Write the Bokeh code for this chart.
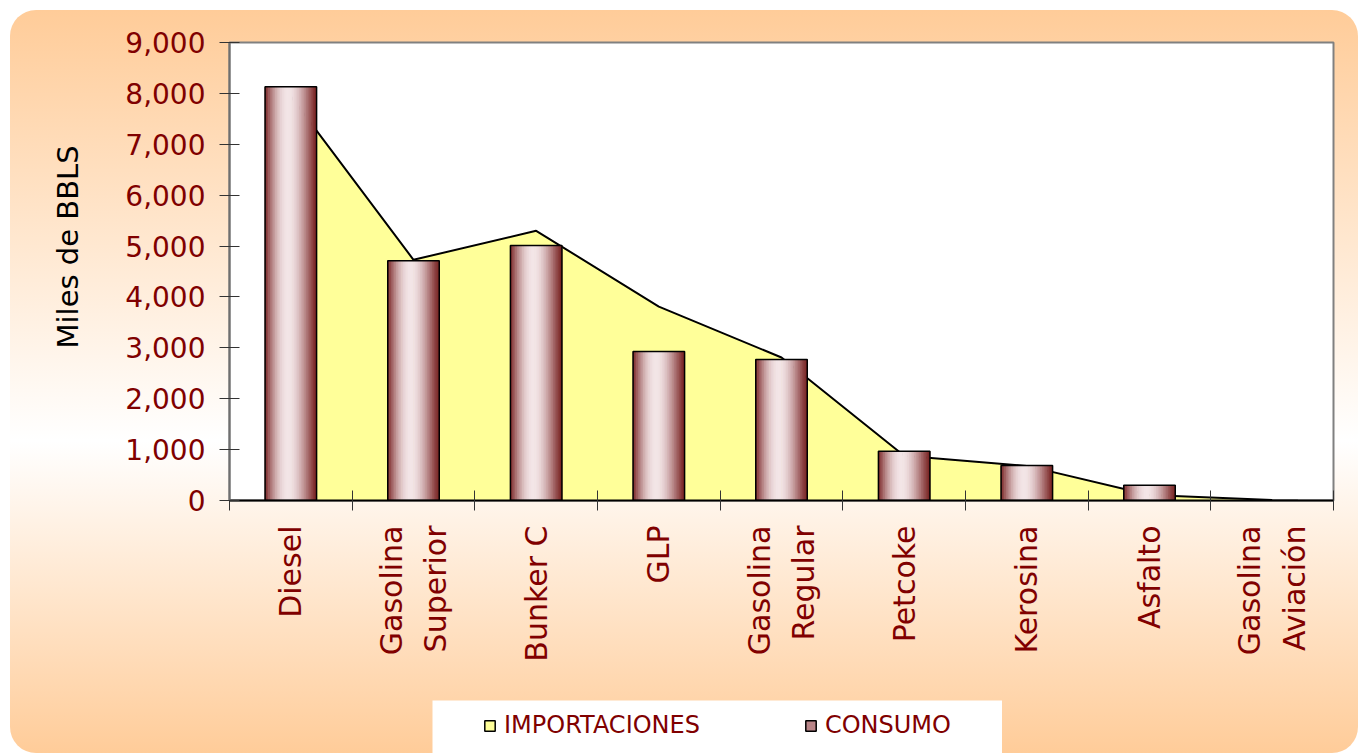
import math
from bokeh.plotting import figure
from bokeh.models import (FactorRange, Range1d, LinearAxis, FixedTicker, Title,
                          NumeralTickFormatter, Legend, LegendItem, ColumnDataSource)
from bokeh.transform import dodge
from bokeh.embed import file_html
from bokeh.resources import INLINE

# ---------------- data ----------------
categories = ["Diesel", "Gasolina Superior", "Bunker C", "GLP", "Gasolina Regular",
              "Petcoke", "Kerosina", "Asfalto", "Gasolina Aviación"]
tick_labels = ["Diesel", "Gasolina\nSuperior", "Bunker C", "GLP", "Gasolina\nRegular",
               "Petcoke", "Kerosina", "Asfalto", "Gasolina\nAviación"]
importaciones = [7940, 4730, 5300, 3810, 2810, 880, 680, 110, 10]
consumo = [8130, 4710, 5010, 2930, 2770, 970, 690, 300, 0]
y_ticks = [0, 1000, 2000, 3000, 4000, 5000, 6000, 7000, 8000, 9000]
series_names = ["IMPORTACIONES", "CONSUMO"]
y_title = "Miles de BBLS"

# ---------------- styles ----------------
RED = "#800000"
FONT = "DejaVu Sans"
LINE_GAP = 0.183  # half spacing of the two lines of a label, in category widths
YELLOW = "#FFFF99"

src = ColumnDataSource(dict(cat=categories, imp=importaciones, con=consumo))

p = figure(width=1348, height=743,
           x_range=FactorRange(factors=categories, range_padding=0),
           y_range=Range1d(0, 9000),
           output_backend="svg", toolbar_location=None,
           x_axis_location=None, y_axis_location=None,
           min_border_left=215, min_border_right=25, min_border_top=32, min_border_bottom=253,
           border_fill_color=None, background_fill_color="white",
           outline_line_color="#808080", outline_line_width=2,
           styles={"background": "linear-gradient(to bottom, #FFCC99 0%, #FFFFFF 58%, #FFCC99 100%)",
                   "border-radius": "26px", "overflow": "hidden",
                   "margin-left": "10px", "margin-top": "10px"})
p.grid.grid_line_color = None

# y axis
yaxis = LinearAxis(ticker=FixedTicker(ticks=y_ticks), formatter=NumeralTickFormatter(format="0,0"),
                   major_tick_in=10, major_tick_out=10, minor_tick_line_color=None,
                   axis_line_color="#6f6f6f", axis_line_width=2,
                   major_tick_line_color="#333333",
                   major_label_text_font=FONT, major_label_text_font_size="28px",
                   major_label_text_color=RED, major_label_standoff=14)
p.add_layout(yaxis, "left")
p.add_layout(Title(text=y_title, align="left", offset=152, standoff=76,
                   text_font=FONT, text_font_size="29px", text_font_style="normal",
                   text_color="black"), "left")

# x axis: labels placed in the factor range's synthetic coordinates,
# minor ticks mark the category boundaries
label_pos, label_txt = [], []
for i, lab in enumerate(tick_labels):
    lines = lab.split("\n")
    for j, ln in enumerate(lines):
        pos = i + 0.5 + (j - (len(lines) - 1) / 2) * 2 * LINE_GAP
        label_pos.append(pos)
        label_txt.append(ln)
xaxis = LinearAxis(ticker=FixedTicker(ticks=label_pos, minor_ticks=list(range(len(categories) + 1))),
                   major_label_overrides=dict(zip(label_pos, label_txt)),
                   major_label_orientation=math.pi / 2,
                   major_tick_line_color=None, major_tick_in=0, major_tick_out=0,
                   minor_tick_in=10, minor_tick_out=10, minor_tick_line_color="#333333",
                   axis_line_color="black", axis_line_width=2,
                   major_label_text_font=FONT, major_label_text_font_size="30px",
                   major_label_text_color=RED, major_label_standoff=15)
p.add_layout(xaxis, "below")

# area (importaciones)
p.varea(x="cat", y1=0, y2="imp", source=src, fill_color=YELLOW)
p.line(x="cat", y="imp", source=src, line_color="black", line_width=2)

# bars (consumo) with cylinder shading
dark = (0x78, 0x22, 0x22)
light = (0xF3, 0xE5, 0xE7)


def shade(t):
    u = t ** 0.868
    L = math.sin(math.pi * u) ** 1.15
    c = [int(round(d + (l - d) * L)) for d, l in zip(dark, light)]
    return "#%02x%02x%02x" % tuple(c)


bar_w = 0.42
N = 30
for i in range(N):
    t = (i + 0.5) / N
    off = -bar_w / 2 + t * bar_w
    p.vbar(x=dodge("cat", off, range=p.x_range), top="con", width=bar_w / N * 1.4,
           source=src, fill_color=shade(t), line_color=None)
p.vbar(x="cat", top="con", width=bar_w, source=src, fill_color=None,
       line_color="black", line_width=1.5)

# ---------------- legend box (separate small figure laid over the bottom) ----------------
lg = figure(width=570, height=53, output_backend="svg", toolbar_location=None,
            x_axis_location=None, y_axis_location=None,
            min_border_left=0, min_border_right=0, min_border_top=0, min_border_bottom=0,
            border_fill_color="white", background_fill_color="white", outline_line_color=None,
            styles={"position": "absolute", "left": "432px", "top": "700px"})
lg.grid.grid_line_color = None
proxy = ColumnDataSource(dict(x=[0], top=[0]))
leg_imp = lg.vbar(x="x", top="top", width=0.5, source=proxy, visible=False,
                  fill_color=YELLOW, line_color="black", line_width=1.5)
leg_con = lg.vbar(x="x", top="top", width=0.5, source=proxy, visible=False,
                  fill_color="#B98588", line_color="black", line_width=1.5)

legend = Legend(items=[LegendItem(label=series_names[0], renderers=[leg_imp]),
                       LegendItem(label=series_names[1], renderers=[leg_con])],
                orientation="horizontal", location=(51, 14),
                background_fill_alpha=0, border_line_color=None,
                inactive_fill_alpha=0,
                padding=0, spacing=104, margin=0,
                glyph_width=13, glyph_height=13, label_standoff=8, label_height=25,
                label_text_font=FONT, label_text_font_size="24px", label_text_color=RED)
lg.add_layout(legend, "center")

open("out.html", "w").write(file_html([p, lg], INLINE))
